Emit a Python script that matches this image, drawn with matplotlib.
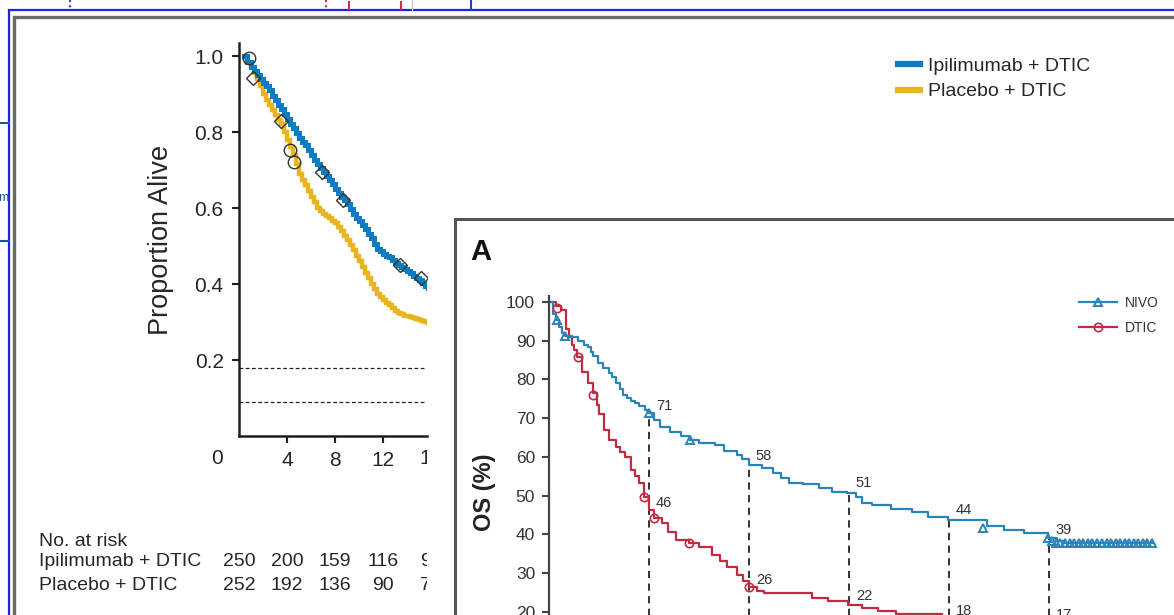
import matplotlib
matplotlib.use('Agg')
import matplotlib.pyplot as plt
from matplotlib.lines import Line2D
from matplotlib import font_manager as fm

# ---------------------------------------------------------
# Data
# ---------------------------------------------------------
# Back panel: Ipilimumab trial (months, proportion alive)
ipi_months = [0.4, 0.7, 1.0, 1.25, 1.5, 1.75, 2.0, 2.25, 2.5, 2.75, 3.0, 3.25, 3.5, 3.75, 4.0, 4.25,
              4.5, 4.75, 5.0, 5.25, 5.5, 5.75, 6.0, 6.25, 6.5, 6.75, 7.0, 7.25, 7.5, 7.75, 8.0, 8.25,
              8.5, 8.75, 9.0, 9.25, 9.5, 9.75, 10.0, 10.25, 10.5, 10.75, 11.0, 11.25, 11.5, 11.75,
              12.0, 12.25, 12.5, 12.75, 13.0, 13.25, 13.5, 13.75, 14.0, 14.25, 14.5, 14.75, 15.0,
              15.25, 15.5, 15.75, 16.0]
ipi_surv = [1.0, 0.985, 0.97, 0.96, 0.95, 0.94, 0.93, 0.92, 0.91, 0.895, 0.885, 0.872, 0.86, 0.848,
            0.835, 0.822, 0.81, 0.797, 0.785, 0.775, 0.765, 0.752, 0.74, 0.727, 0.715, 0.705, 0.695,
            0.685, 0.675, 0.662, 0.65, 0.64, 0.63, 0.62, 0.61, 0.597, 0.585, 0.575, 0.565, 0.555,
            0.545, 0.532, 0.52, 0.505, 0.492, 0.486, 0.48, 0.475, 0.47, 0.462, 0.455, 0.45, 0.445,
            0.44, 0.435, 0.428, 0.42, 0.415, 0.41, 0.402, 0.395, 0.39, 0.385]
pla_months = [0.4, 0.7, 1.0, 1.25, 1.5, 1.75, 2.0, 2.25, 2.5, 2.75, 3.0, 3.25, 3.5, 3.75, 4.0, 4.25,
              4.5, 4.75, 5.0, 5.25, 5.5, 5.75, 6.0, 6.25, 6.5, 6.75, 7.0, 7.25, 7.5, 7.75, 8.0, 8.25,
              8.5, 8.75, 9.0, 9.25, 9.5, 9.75, 10.0, 10.25, 10.5, 10.75, 11.0, 11.25, 11.5, 11.75,
              12.0, 12.25, 12.5, 12.75, 13.0, 13.25, 13.5, 13.75, 14.0, 14.25, 14.5, 14.75, 15.0,
              15.25, 15.5, 15.75, 16.0]
pla_surv = [1.0, 0.985, 0.97, 0.955, 0.94, 0.92, 0.90, 0.885, 0.87, 0.857, 0.845, 0.832, 0.82, 0.80,
            0.78, 0.76, 0.74, 0.715, 0.69, 0.675, 0.66, 0.645, 0.63, 0.615, 0.60, 0.592, 0.585, 0.58,
            0.575, 0.567, 0.56, 0.55, 0.54, 0.527, 0.515, 0.502, 0.49, 0.475, 0.46, 0.445, 0.43,
            0.415, 0.40, 0.387, 0.375, 0.366, 0.358, 0.351, 0.345, 0.337, 0.33, 0.325, 0.32, 0.317,
            0.315, 0.312, 0.31, 0.307, 0.305, 0.302, 0.30, 0.297, 0.295]
ipi_cens_t = [1.2, 3.5, 6.9, 8.7, 13.4, 15.2]
ipi_cens_s = [0.942, 0.83, 0.695, 0.62, 0.45, 0.415]
pla_cens_t = [0.8, 4.25, 4.6]
pla_cens_s = [0.995, 0.753, 0.72]
ref_lines = [0.18, 0.09]

risk_times = [0, 4, 8, 12, 16]
risk_ipi = [250, 200, 159, 116, 93]
risk_pla = [252, 192, 136, 90, 71]

# Front panel: NIVO vs DTIC (months, OS %)
nivo_t = [0, 0.5, 0.8, 1.2, 1.5, 1.9, 2.8, 3.5, 4.2, 4.7, 5.0, 5.3, 5.9, 6.5, 7.2, 7.6, 8.0, 8.5,
          8.9, 9.4, 9.8, 10.3, 10.8, 11.5, 12.0, 12.6, 13.3, 14.5, 15.8, 16.9, 18.0, 19.9, 21.0,
          22.5, 23.2, 24.0, 25.5, 26.9, 27.8, 28.8, 30.5, 32.4, 34.0, 35.8, 36.8, 37.5, 38.8,
          41.0, 43.6, 45.5, 47.9, 51.5, 52.5, 54.6, 57.0, 59.9, 61.0, 61.8, 72.5]
nivo_os = [100, 97, 95.3, 93.5, 92, 91.2, 91, 90, 89, 88.4, 87, 86, 84.2, 83, 81.7, 80.5, 79, 77.5,
           76, 75.2, 74.5, 73.8, 73, 72, 71.3, 69.5, 67.7, 66.5, 65.5, 64.3, 63.5, 63, 61.5,
           60.5, 59.5, 57.9, 57, 55.8, 54.5, 53.2, 53, 52, 51, 50.6, 49.5, 48, 47.5,
           46.5, 45.7, 44.5, 43.7, 43.7, 42.2, 41.1, 40.2, 39, 38.2, 37.7, 37.7]
dtic_t = [0, 0.8, 1.4, 2.0, 2.4, 2.7, 3.0, 3.4, 4.0, 4.7, 5.3, 5.7, 6.0, 6.6, 7.2, 8.0, 8.5, 9.1,
          9.8, 10.3, 10.8, 11.4, 12.0, 12.6, 13.6, 14.3, 15.2, 16.8, 18.0, 19.5, 20.5, 21.4, 22.5,
          23.3, 24.0, 25.0, 25.8, 30.5, 31.5, 33.5, 35.9, 37.5, 39.5, 41.6, 47.0, 47.1, 60.0]
dtic_os = [100, 99, 98, 93, 91, 89, 87.5, 85.8, 82, 79, 76.5, 73.5, 71, 67, 64.3, 62.5, 61.2, 60,
           56.5, 55, 53.2, 49.6, 46.3, 44.2, 42.9, 40.5, 38.5, 37.7, 36.7, 34.5, 33, 31.5, 29.5,
           28, 26.4, 25.2, 24.8, 24.8, 23.5, 22.8, 21.7, 21, 20.2, 19.3, 19.3, 18.0, 17]
nivo_cens_t = [1.0, 1.9, 12.0, 16.9, 52.1, 59.9, 60.4, 60.8, 61.3, 61.9, 62.5, 63.0, 63.6, 64.1, 64.7,
               65.2, 65.8, 66.3, 66.9, 67.4, 68.0, 68.5, 69.1, 69.6, 70.2, 70.7, 71.3, 71.8, 72.3]
nivo_cens_os = [95.3, 91.2, 71.3, 64.3, 41.6, 39, 38.2, 37.7, 37.7, 37.7, 37.7, 37.7, 37.7, 37.7, 37.7,
                37.7, 37.7, 37.7, 37.7, 37.7, 37.7, 37.7, 37.7, 37.7, 37.7, 37.7, 37.7, 37.7, 37.7]
dtic_cens_t = [1.0, 3.5, 5.3, 11.4, 12.6, 16.8, 24.0]
dtic_cens_os = [98.4, 85.8, 76.0, 49.6, 44.2, 37.7, 26.4]

landmarks = [12, 24, 36, 48, 60]
nivo_land = [71, 58, 51, 44, 39]
dtic_land = [46, 26, 22, 18, 17]

# ---------------------------------------------------------
# Layout helpers (pixel boxes)
# ---------------------------------------------------------
W, H = 1174, 615
def box(x0, y0, x1, y1):
    return [x0 / W, 1 - y1 / H, (x1 - x0) / W, (y1 - y0) / H]

names = {f.name for f in fm.fontManager.ttflist}
narrow = 'Liberation Sans Narrow' if 'Liberation Sans Narrow' in names else 'Liberation Sans'
sans = 'Liberation Sans'
dark = '#262626'

fig = plt.figure(figsize=(W / 100, H / 100), dpi=100)

# background: screenshot frames
bg = fig.add_axes([0, 0, 1, 1], zorder=0)
bg.set_xlim(0, W)
bg.set_ylim(H, 0)
bg.axis('off')
bg.plot([9, 9, W], [H, 10, 10], color='#1f1ff0', lw=1.6, solid_joinstyle='miter')
bg.plot([14, 14, W], [H, 17, 17], color='#6a6a6a', lw=2.4, solid_joinstyle='miter')
bg.plot([70, 70], [0, 8], color='#2050a0', lw=1.5, ls=(0, (1, 1.5)))
bg.plot([326, 326], [0, 8], color='#d03040', lw=1.5, ls=(0, (1, 1.5)))
bg.plot([349, 349], [2, 9], color='#d03040', lw=1.5)
bg.plot([401, 401], [2, 9], color='#d03040', lw=1.5)
bg.plot([412, 412], [0, 10], color='#c8c8c8', lw=1)
bg.plot([471, 471], [0, 10], color='#1f3fc0', lw=1.5)
bg.plot([0, 9], [123, 123], color='#2050a0', lw=1.5)
bg.plot([0, 9], [241, 241], color='#2050a0', lw=1.5)
bg.text(-2, 198, 'm', fontsize=9, color='#2050a0', va='center', ha='left', family=sans)

# ---------------------------------------------------------
# Back panel: Ipilimumab + DTIC vs Placebo + DTIC
# ---------------------------------------------------------
ax1 = fig.add_axes(box(239, 43, 427, 436), zorder=1)
ax1.patch.set_alpha(0)
ax1.set_xlim(0, (427 - 239) / 12)
ax1.set_ylim(0, (436 - 43) / 380)
ax1.step(pla_months, pla_surv, where='post', color='#e8b520', lw=3.2, solid_joinstyle='miter')
ax1.step(ipi_months, ipi_surv, where='post', color='#0e7cc1', lw=3.6, solid_joinstyle='miter')
ax1.plot(ipi_cens_t, ipi_cens_s, 'D', mfc='none', mec='#333333', ms=7, mew=1)
ax1.plot(pla_cens_t, pla_cens_s, 'o', mfc='none', mec='#333333', ms=9, mew=1)
for y in ref_lines:
    ax1.axhline(y, color='#222222', lw=0.9, ls=(0, (3, 2)))
for s in ['top', 'right']:
    ax1.spines[s].set_visible(False)
for s in ['left', 'bottom']:
    ax1.spines[s].set_linewidth(1.8)
    ax1.spines[s].set_color('#1e1e1e')
ax1.set_yticks([0.2, 0.4, 0.6, 0.8, 1.0])
ax1.set_yticklabels(['0.2', '0.4', '0.6', '0.8', '1.0'])
ax1.set_xticks([4, 8, 12])
ax1.tick_params(length=5, width=1.5, color='#1e1e1e', labelsize=15, labelcolor=dark, pad=6)
for lab in ax1.get_xticklabels() + ax1.get_yticklabels():
    lab.set_family(sans)
fig.text(161 / W, 1 - 240 / H, 'Proportion Alive', rotation=90, ha='center', va='center',
         fontsize=19.5, color=dark, family=sans)

leg1 = ax1.legend(handles=[Line2D([], [], color='#0e7cc1', lw=4.5),
                           Line2D([], [], color='#e8b520', lw=4.5)],
                  labels=['Ipilimumab + DTIC', 'Placebo + DTIC'],
                  loc='upper left', bbox_to_anchor=(898 / W, 1 - 57 / H), bbox_transform=fig.transFigure,
                  frameon=False, borderpad=0, borderaxespad=0, handlelength=1.15, handletextpad=0.38,
                  labelspacing=0.42, prop={'family': sans, 'size': 14})
for t in leg1.get_texts():
    t.set_color(dark)

# x labels 0 / 16 and risk table, clipped at the panel cut
tab = fig.add_axes(box(0, 440, 427, 615), zorder=1)
tab.patch.set_alpha(0)
tab.axis('off')
tab.set_xlim(-239 / 12, (427 - 239) / 12)
tab.set_ylim(615, 440)
tab.text(-1.8, 459, '0', ha='center', va='center', fontsize=15, color=dark, family=sans)
tab.text(16, 459, '16', ha='center', va='center', fontsize=15, color=dark, family=sans, clip_on=True)
tab.text(-16.67, 541, 'No. at risk', ha='left', va='center', fontsize=14, color=dark, family=sans)
tab.text(-16.67, 562, 'Ipilimumab + DTIC', ha='left', va='center', fontsize=14, color=dark, family=sans)
tab.text(-16.67, 585, 'Placebo + DTIC', ha='left', va='center', fontsize=14, color=dark, family=sans)
for t, a, b in zip(risk_times, risk_ipi, risk_pla):
    tab.text(t, 562, str(a), ha='center', va='center', fontsize=14, color=dark, family=sans, clip_on=True)
    tab.text(t, 585, str(b), ha='center', va='center', fontsize=14, color=dark, family=sans, clip_on=True)

# ---------------------------------------------------------
# Front panel A: NIVO vs DTIC
# ---------------------------------------------------------
fbg = fig.add_axes(box(455, 219, 1190, 630), zorder=2)
fbg.set_xticks([])
fbg.set_yticks([])
fbg.set_facecolor('white')
for s in ['bottom', 'right']:
    fbg.spines[s].set_visible(False)
for s in ['top', 'left']:
    fbg.spines[s].set_linewidth(2.2)
    fbg.spines[s].set_color('#555555')
fig.text(470 / W, 1 - 252 / H, 'A', fontsize=21, fontweight='bold', family=sans, color='#111111',
         ha='left', va='center', zorder=5)
fig.text(485 / W, 1 - 492 / H, 'OS (%)', rotation=90, fontsize=17, fontweight='bold', family=narrow,
         color='#222222', ha='center', va='center', zorder=5)

ax2 = fig.add_axes(box(549, 296, 1165, 615), zorder=3)
ax2.patch.set_alpha(0)
ax2.set_xlim(0, (1165 - 549) / (100 / 12))
ax2.set_ylim((689 - 615) / 3.87, (689 - 296) / 3.87)
nivo_c = '#2b84b8'
dtic_c = '#bf2c42'
ax2.vlines(landmarks, 0, nivo_land, colors='#222222', linestyles=(0, (4, 3)), lw=1.3)
ax2.step(dtic_t, dtic_os, where='post', color=dtic_c, lw=1.6)
ax2.step(nivo_t, nivo_os, where='post', color=nivo_c, lw=1.6)
ax2.plot(dtic_cens_t, dtic_cens_os, 'o', mfc='none', mec=dtic_c, ms=6, mew=1.2)
ax2.plot(nivo_cens_t, nivo_cens_os, '^', mfc='none', mec=nivo_c, ms=6, mew=1.4)
for t, a, b in zip(landmarks, nivo_land, dtic_land):
    for v in (a, b):
        ax2.annotate(str(v), xy=(t, v), xytext=(5, 6), textcoords='offset points', ha='left',
                     va='center', fontsize=10.5, family=narrow, color='#333333', annotation_clip=False)
for s in ['top', 'right', 'bottom']:
    ax2.spines[s].set_visible(False)
ax2.spines['left'].set_linewidth(1.6)
ax2.spines['left'].set_color('#444444')
ax2.set_xticks([])
ax2.set_yticks([20, 30, 40, 50, 60, 70, 80, 90, 100])
ax2.tick_params(axis='y', length=5, width=1.5, color='#444444', labelsize=12.5, labelcolor='#333333', pad=5)
for lab in ax2.get_yticklabels():
    lab.set_family(narrow)

leg2 = ax2.legend(handles=[Line2D([], [], color=nivo_c, lw=1.6, marker='^', mfc='none', ms=6, mew=1.4),
                           Line2D([], [], color=dtic_c, lw=1.6, marker='o', mfc='none', ms=6, mew=1.2)],
                  labels=['NIVO', 'DTIC'], loc='upper left', bbox_to_anchor=(1079 / W, 1 - 296 / H),
                  bbox_transform=fig.transFigure, frameon=False, borderpad=0, borderaxespad=0,
                  handlelength=2.7, handletextpad=0.6, labelspacing=0.78,
                  prop={'family': narrow, 'size': 10})
for t in leg2.get_texts():
    t.set_color('#333333')

plt.savefig('out.png', dpi=100)
